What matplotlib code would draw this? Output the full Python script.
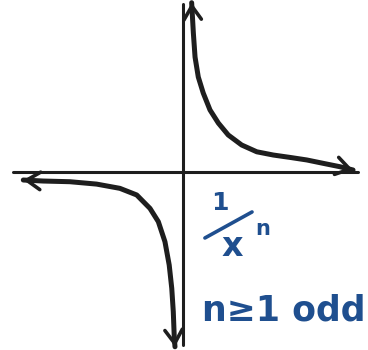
import numpy as np
import matplotlib
matplotlib.use("Agg")
import matplotlib.pyplot as plt

# sketch of y = 1/x^n (n odd)
upper_x = [0.51, 0.61, 0.71, 0.90, 1.19, 1.59, 2.08, 2.66, 3.45, 4.34,
           5.31, 6.29, 7.28, 8.25, 9.24, 10.0]
upper_y = [9.96, 8.18, 6.76, 5.59, 4.65, 3.65, 2.88, 2.18, 1.59, 1.19,
           1.00, 0.86, 0.71, 0.51, 0.31, 0.12]

lower_x = [-9.39, -8.22, -6.65, -5.08, -3.71, -2.72, -1.94, -1.45, -1.06,
           -0.81, -0.66, -0.57, -0.51, -0.47]
lower_y = [-0.47, -0.53, -0.57, -0.71, -0.96, -1.35, -2.14, -2.92, -4.10,
           -5.47, -6.84, -8.22, -9.78, -10.28]

x_axis = [-10.0, 10.3]
y_axis = [-10.2, 9.9]

ink = "#1e1e1e"
blue = "#1f4f8f"


def arrow_end(ax, xs, ys, at_start=False):
    # open arrowhead in the direction the curve runs out
    if at_start:
        tip, prev = (xs[0], ys[0]), (xs[1], ys[1])
    else:
        tip, prev = (xs[-1], ys[-1]), (xs[-2], ys[-2])
    d = np.array(tip) - np.array(prev)
    d = d / np.hypot(*d) * 0.3
    ax.annotate("", xy=tip, xytext=(tip[0] - d[0], tip[1] - d[1]),
                arrowprops=dict(arrowstyle="->,head_length=0.7,head_width=0.45",
                                color=ink, lw=2.6, mutation_scale=14,
                                shrinkA=0, shrinkB=0))


def main():
    fig = plt.figure(figsize=(3.68, 3.50), dpi=100)
    ax = fig.add_axes([0, 0, 1, 1])
    ax.set_xlim(-10.76, 10.88)
    ax.set_ylim(-10.47, 10.12)
    ax.axis("off")

    # axes
    ax.plot(x_axis, [0, 0], color=ink, lw=2.2, solid_capstyle="round")
    ax.plot([0, 0], y_axis, color=ink, lw=2.2, solid_capstyle="round")

    # the two branches
    for xs, ys in [(upper_x, upper_y), (lower_x, lower_y)]:
        ax.plot(xs, ys, color=ink, lw=3.6, solid_capstyle="round",
                solid_joinstyle="round")
        arrow_end(ax, xs, ys, at_start=True)
        arrow_end(ax, xs, ys)

    # label 1/x^n
    ax.text(2.18, -1.80, "1", color=blue, fontsize=18, fontweight="bold",
            ha="center", va="center")
    ax.plot([1.29, 4.06], [-3.88, -2.35], color=blue, lw=2.6, solid_capstyle="round")
    ax.text(2.88, -4.40, "x", color=blue, fontsize=24, fontweight="bold",
            ha="center", va="center")
    ax.text(4.70, -3.35, "n", color=blue, fontsize=15, fontweight="bold",
            ha="center", va="center")
    ax.text(1.1, -8.71, "n≥1 odd", color=blue, fontsize=25, fontweight="bold",
            ha="left", va="baseline")

    fig.savefig("out.png", dpi=100)


if __name__ == "__main__":
    main()
